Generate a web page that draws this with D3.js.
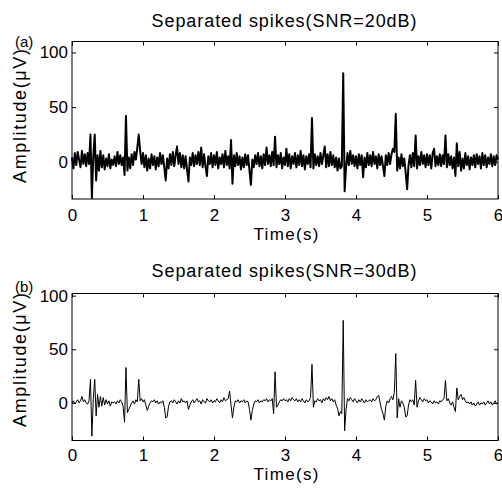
<!DOCTYPE html>
<html>
<head>
<meta charset="utf-8">
<script src="https://cdnjs.cloudflare.com/ajax/libs/d3/7.8.5/d3.min.js"></script>
<style>
  body { margin: 0; background: #fff; }
  svg text { font-family: "Liberation Sans", Arial, sans-serif; fill: #000; }
</style>
</head>
<body>
<div id="chart"></div>
<script>
let w = 502;
let h = 490;

// sample interval of the traces (s)
let dt = 0.02;

let timeTicks = [0, 1, 2, 3, 4, 5, 6];
let ampTicks = [0, 50, 100];

let titleA = "Separated spikes(SNR=20dB)";
let titleB = "Separated spikes(SNR=30dB)";

// panel (a) trace, one row = 0.2 s
let sigA = [
  4,-6,8,-3,9,2,-5,10,-2,7,
  -4,8,-2,25,-33,5,25,-17,6,-8,
  10,-5,6,-7,3,-4,7,-6,2,-3,
  5,-4,9,-2,6,-3,4,-12,42,-8,
  4,-6,7,-3,9,2,13,25,10,-2,
  8,-5,6,-8,3,-6,7,-3,5,-7,
  4,-4,8,-2,6,-5,-17,3,-6,7,
  -3,9,-4,6,14,-2,8,-5,6,-6,
  5,-7,-18,4,-3,8,-4,6,-2,9,
  -3,13,-5,7,-4,-13,5,-2,8,-5,
  6,-3,9,-6,4,-2,7,-5,10,-3,
  5,-6,20,-20,6,-4,8,-3,5,-7,
  4,-5,7,-3,6,-8,-21,2,-5,6,
  -2,8,-4,5,-6,7,-3,13,-2,6,
  -4,9,-3,23,-5,6,-2,8,-6,4,
  -3,12,-4,7,-6,5,-2,8,-5,6,
  -3,10,-4,6,-7,5,-2,7,-5,40,
  -6,7,-3,5,-4,8,-2,6,14,-5,
  7,-4,9,-3,6,-5,4,-8,3,-6,
  -4,81,-27,-5,8,-3,10,-2,6,-4,
  5,-6,7,-3,6,-14,4,-5,8,-3,
  6,-4,9,-2,5,-6,7,-3,5,-4,
  -13,6,-3,8,-2,7,12,9,44,-8,
  4,-6,7,-4,3,-10,-25,-3,6,-5,
  8,-4,24,-6,5,-3,9,-2,6,-5,
  7,-3,6,-6,8,12,-4,5,-3,7,
  -4,6,-2,24,-5,7,-3,5,-6,4,
  -13,17,-4,9,-8,3,-6,8,-3,5,
  -7,4,-3,6,-5,7,-2,5,-6,8,
  -3,6,-5,4,-2,7,-4,5,-3,6,
  2
];

// panel (b) trace, one row = 0.2 s
let sigB = [
  0,2,-1,1,3,0,2,6,1,3,
  0,-1,2,22,-31,4,22,-12,8,-4,
  6,-3,5,-2,3,-1,2,-3,1,0,
  1,-1,2,0,3,1,-3,-18,33,-9,
  -6,-3,0,2,-1,3,1,22,2,4,
  1,3,-2,-7,-3,0,2,1,3,0,
  2,-1,1,0,2,-4,-14,-13,-3,1,
  2,0,3,1,-1,2,0,4,1,2,
  0,2,-6,-2,1,3,0,2,4,1,
  2,-1,3,1,0,4,2,1,3,0,
  2,1,4,2,0,3,1,5,2,3,
  4,11,-2,-14,-4,2,1,3,0,2,
  1,3,0,2,1,-6,-16,-7,-1,2,
  1,3,0,2,1,3,2,4,1,3,
  2,4,-10,29,-4,-2,1,3,2,4,
  2,3,1,4,2,5,3,2,4,1,
  3,1,4,2,0,3,1,2,5,36,
  -4,2,1,4,2,3,0,4,2,5,
  3,6,2,4,1,3,-2,-5,-12,-8,
  -10,77,-26,-6,4,2,5,3,1,4,
  2,0,3,1,4,2,0,3,1,2,
  3,1,4,2,3,6,7,0,-6,-10,
  -16,-3,2,0,4,6,3,10,46,-14,
  4,-4,2,0,-4,-13,-12,-2,3,1,
  3,-2,21,-4,2,5,3,1,4,2,
  3,0,2,1,-1,2,0,1,-1,2,
  1,3,4,21,2,4,0,-2,1,-4,
  -8,14,3,6,8,3,5,2,0,1,
  -1,1,-2,0,-3,-1,1,-2,0,-1,
  1,-2,0,2,-1,1,-2,0,2,-1,
  0
];

let viz = d3.select("#chart")
  .append("svg")
  .attr("width", w)
  .attr("height", h)
  .style("background-color", "white");

let xScale = d3.scaleLinear().domain([0, 6]).range([72, 498]);

function drawPanel(sig, cfg){
  let yScale = d3.scaleLinear().domain(cfg.yDomain).range([cfg.bottom, cfg.top]);
  let g = viz.append("g");

  // trace
  let line = d3.line()
    .x(function(d, i){ return xScale(i * dt); })
    .y(function(d){ return yScale(d); });
  g.append("path")
    .datum(sig)
    .attr("d", line)
    .attr("fill", "none")
    .attr("stroke", "black")
    .attr("stroke-width", cfg.lw)
    .attr("stroke-linejoin", "round");

  // axes, ticks pointing inwards
  let bottomAxis = d3.axisBottom(xScale).tickValues(timeTicks).tickFormat(d3.format("d"))
    .tickSizeInner(-4).tickSizeOuter(0).tickPadding(cfg.xPad);
  let topAxis = d3.axisTop(xScale).tickValues(timeTicks).tickFormat("")
    .tickSizeInner(-4).tickSizeOuter(0);
  let leftAxis = d3.axisLeft(yScale).tickValues(ampTicks).tickFormat(d3.format("d"))
    .tickSizeInner(-4).tickSizeOuter(0).tickPadding(4);
  let rightAxis = d3.axisRight(yScale).tickValues(ampTicks).tickFormat("")
    .tickSizeInner(-4).tickSizeOuter(0);

  g.append("g").attr("transform", "translate(0," + cfg.bottom + ")").call(bottomAxis);
  g.append("g").attr("transform", "translate(0," + cfg.top + ")").call(topAxis);
  g.append("g").attr("transform", "translate(72,0)").call(leftAxis);
  g.append("g").attr("transform", "translate(498,0)").call(rightAxis);
  g.selectAll(".domain").remove();
  g.selectAll(".tick line").attr("stroke", "black");
  g.selectAll(".tick text").style("font-size", "17px").attr("fill", "black");

  g.append("rect")
    .attr("x", 72).attr("y", cfg.top)
    .attr("width", 498 - 72).attr("height", cfg.bottom - cfg.top)
    .attr("fill", "none").attr("stroke", "black").attr("stroke-width", 1);

  g.append("text")
    .attr("x", 284).attr("y", cfg.titleY)
    .attr("text-anchor", "middle")
    .style("font-size", "18px")
    .attr("textLength", 265).attr("lengthAdjust", "spacing")
    .text(cfg.title);

  g.append("text")
    .attr("x", 286).attr("y", cfg.xLabelY)
    .attr("text-anchor", "middle")
    .style("font-size", "17px")
    .attr("textLength", 65).attr("lengthAdjust", "spacing")
    .text("Time(s)");

  g.append("text")
    .attr("transform", "translate(26," + cfg.yLabelC + ") rotate(-90)")
    .attr("text-anchor", "middle")
    .style("font-size", "18px")
    .attr("textLength", 134).attr("lengthAdjust", "spacing")
    .text("Amplitude(\u03bcV)");

  g.append("text")
    .attr("x", 15).attr("y", cfg.tagY)
    .style("font-size", "15px")
    .text(cfg.tag);
}

drawPanel(sigA, {
  yDomain: [-34, 110], top: 41.5, bottom: 199, lw: 2, xPad: 9.9,
  title: titleA, titleY: 27, xLabelY: 240, yLabelC: 116, tag: "(a)", tagY: 47
});

drawPanel(sigB, {
  yDomain: [-35, 102], top: 293.5, bottom: 440.5, lw: 1, xPad: 8.5,
  title: titleB, titleY: 277, xLabelY: 480, yLabelC: 360, tag: "(b)", tagY: 292
});
</script>
</body>
</html>
